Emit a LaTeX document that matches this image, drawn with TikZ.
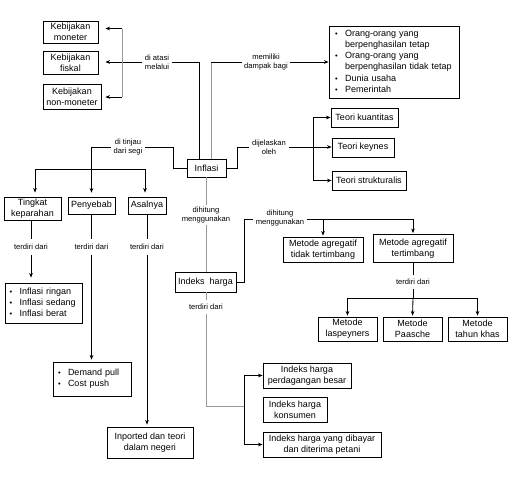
\documentclass[tikz,border=0pt]{standalone}
\usepackage{fontspec}
\setmainfont{Liberation Sans}
\usetikzlibrary{arrows.meta}
\begin{document}
\begin{tikzpicture}[x=1pt,y=-1pt,
  box/.style={draw, line width=0.75pt, fill=white, inner sep=0pt, align=center, font=\fontsize{9}{10.8}\selectfont},
  listbox/.style={draw, line width=0.75pt, fill=white, inner ysep=0pt, align=left, font=\fontsize{9}{11.2}\selectfont},
  lbl/.style={inner xsep=2.5pt, inner ysep=2pt, align=center, font=\fontsize{7.6}{8.6}\selectfont},
  ln/.style={line width=0.85pt},
  gln/.style={line width=0.95pt, draw=black!40},
  arr/.style={ln, -{Stealth[length=4.5pt,width=3.6pt,inset=1.2pt]}},
]
\useasboundingbox (0,0) rectangle (519,493);
\newcommand{\bul}{{\fontsize{7.5}{7.5}\selectfont\textbullet}}

% ---------- boxes ----------
\node[box, minimum width=55, minimum height=22] (mon) at (70.5,32) {Kebijakan\\moneter};
\node[box, minimum width=55, minimum height=23] (fis) at (70.5,62.5) {Kebijakan\\fiskal};
\node[box, minimum width=58, minimum height=25] (non) at (72,96.5) {Kebijakan\\non-moneter};

\node[listbox, minimum width=130, minimum height=72, inner xsep=6pt, text width=118pt] (dampak) at (394,62)
 {\begin{tabular}{@{}p{10pt}@{}l@{}}
  \bul & Orang-orang yang\\
       & berpenghasilan tetap\\
  \bul & Orang-orang yang\\
       & berpenghasilan tidak tetap\\
  \bul & Dunia usaha\\
  \bul & Pemerintah
  \end{tabular}};

\node[box, minimum width=39, minimum height=18] (inf) at (206.5,168) {Inflasi};

\node[box, minimum width=67, minimum height=19] (kuan) at (364.5,117.5) {Teori kuantitas};
\node[box, minimum width=62, minimum height=19] (key) at (363,147.5) {Teori keynes};
\node[box, minimum width=74, minimum height=19] (stru) at (369,180.5) {Teori strukturalis};

\node[box, minimum width=57, minimum height=23] (ting) at (32.5,208.5) {Tingkat\\keparahan};
\node[box, minimum width=47, minimum height=17] (peny) at (91.5,205.5) {Penyebab};
\node[box, minimum width=38, minimum height=17] (asal) at (147,205.5) {Asalnya};

\node[listbox, minimum width=77, minimum height=40, inner xsep=4.5pt, text width=68pt] (ilist) at (43.5,303)
 {\begin{tabular}{@{}p{10pt}@{}l@{}}
  \bul & Inflasi ringan\\
  \bul & Inflasi sedang\\
  \bul & Inflasi berat
  \end{tabular}};
\node[listbox, minimum width=78, minimum height=34, inner xsep=5pt, text width=68pt] (dlist) at (92,379)
 {\begin{tabular}{@{}p{10pt}@{}l@{}}
  \bul & Demand pull\\
  \bul & Cost push
  \end{tabular}};
\node[box, minimum width=86, minimum height=31] (inp) at (150,442.5) {Inported dan teori\\dalam negeri};

\node[box, minimum width=61, minimum height=20] (ih) at (205.5,282) {Indeks\ \ harga};

\node[box, minimum width=80, minimum height=25] (mtt) at (323,249.5) {Metode agregatif\\tidak tertimbang};
\node[box, minimum width=80, minimum height=28] (mt) at (413,248.5) {Metode agregatif\\tertimbang};

\node[box, minimum width=59, minimum height=24] (las) at (347.5,329) {Metode\\laspeyners};
\node[box, minimum width=59, minimum height=24] (paa) at (412.5,329) {Metode\\Paasche};
\node[box, minimum width=59, minimum height=24] (thn) at (477.5,329) {Metode\\tahun khas};

\node[box, minimum width=88, minimum height=25] (ipb) at (307,375.5) {Indeks harga\\perdagangan besar};
\node[box, minimum width=64, minimum height=25] (ik) at (295,409.5) {Indeks harga\\konsumen};
\node[box, minimum width=118, minimum height=25] (ip) at (322,444.5) {Indeks harga yang dibayar\\dan diterima petani};

% ---------- labels ----------
\node[lbl] (l1) at (157,62) {di atasi\\melalui};
\node[lbl] (l2) at (266,62) {memiliki\\dampak bagi};
\node[lbl] (l3) at (128,147) {di tinjau\\dari segi};
\node[lbl] (l4) at (269,147) {dijelaskan\\oleh};
\node[lbl] (l5) at (206,215) {dihitung\\menggunakan};
\node[lbl] (l6) at (280,218) {dihitung\\menggunakan};
\node[lbl, inner ysep=5pt] (l7) at (31,247) {terdiri dari};
\node[lbl, inner ysep=5pt] (l8) at (91.5,247) {terdiri dari};
\node[lbl, inner ysep=5pt] (l9) at (147,247) {terdiri dari};
\node[lbl, inner ysep=4pt] (l10) at (206,307) {terdiri dari};
\node[lbl, inner ysep=4pt] (l11) at (413,282) {terdiri dari};

% ---------- junction coordinates ----------
\coordinate (b1) at (122,28.5);
\coordinate (b2) at (122,97);
\coordinate (j1) at (199,159);
\coordinate (j2) at (199,62);
\coordinate (g1) at (211,159);
\coordinate (g2) at (211,62);
\coordinate (t1) at (173,168);
\coordinate (t2) at (173,147);
\coordinate (t3) at (91.5,147);
\coordinate (h1) at (35,169);
\coordinate (h2) at (145,169);
\coordinate (d1) at (237,168);
\coordinate (d2) at (237,147);
\coordinate (k1) at (313,117.5);
\coordinate (k2) at (313,180.5);
\coordinate (m1) at (244,282);
\coordinate (m2) at (244,219);
\coordinate (m3) at (323,219);
\coordinate (m4) at (413,219);
\coordinate (s1) at (206,406);
\coordinate (s2) at (244,406);
\coordinate (s3) at (244,375.5);
\coordinate (s4) at (244,444.5);
\coordinate (r1) at (413,298);
\coordinate (r2) at (347.5,298);
\coordinate (r3) at (477.5,298);

% ---------- connectors ----------
% di atasi melalui
\draw[ln] (j1) -- (j2) -- (l1.east);
\draw[arr, shorten >=7pt] (l1.west) -- (fis.east |- l1.west);
\draw[gln] (b1) -- (b2);
\draw[arr, shorten >=7pt] (b1) -- (mon.east |- b1);
\draw[arr, shorten >=4pt] (b2) -- (non.east |- b2);

% memiliki dampak bagi
\draw[gln] (g1) -- (g2);
\draw[ln] (g2) -- (l2.west);
\draw[arr] (l2.east) -- (dampak.west |- l2.east);

% di tinjau dari segi
\draw[ln] (inf.west) -- (t1) -- (t2) -- (l3.east);
\draw[ln] (l3.west) -- (t3);
\draw[arr, shorten >=4pt] (t3) -- (peny.north);
\draw[ln] (h1) -- (h2);
\draw[arr, shorten >=4pt] (h1) -- (h1 |- ting.north);
\draw[arr, shorten >=4pt] (h2) -- (h2 |- asal.north);

% dijelaskan oleh
\draw[ln] (inf.east) -- (d1) -- (d2) -- (l4.west);
\draw[arr] (l4.east) -- (key.west |- l4.east);
\draw[ln] (k1) -- (k2);
\draw[arr] (k1) -- (kuan.west);
\draw[arr] (k2) -- (stru.west);

% terdiri dari (three branches)
\draw[ln] (ting.south -| l7) -- (l7.north);
\draw[arr, shorten >=5pt] (l7.south) -- (l7.south |- ilist.north);
\draw[ln] (peny.south) -- (l8.north);
\draw[arr, shorten >=2pt] (l8.south) -- (l8.south |- dlist.north);
\draw[ln] (asal.south) -- (l9.north);
\draw[arr, shorten >=2pt] (l9.south) -- (l9.south |- inp.north);

% dihitung menggunakan (Inflasi -> Indeks harga)
\draw[gln] (inf.south -| l5) -- (l5.north);
\draw[gln] (l5.south) -- (ih.north -| l5);

% dihitung menggunakan (Indeks harga -> metode)
\draw[ln] (ih.east) -- (m1) -- (m2) -- (l6.west |- m2);
\draw[ln] (l6.east |- m2) -- (m4);
\draw[arr, shorten >=1pt] (m3) -- (mtt.north);
\draw[arr, shorten >=1pt] (m4) -- (mt.north);

% terdiri dari (tertimbang)
\draw[ln] (mt.south) -- (l11.north);
\draw[ln] (l11.south) -- (r1);
\draw[ln] (r2) -- (r3);
\draw[arr, shorten >=1pt] (r2) -- (las.north);
\draw[arr, shorten >=1pt] (r1) -- (paa.north);
\draw[arr, shorten >=1pt] (r3) -- (thn.north);

% terdiri dari (Indeks harga)
\draw[gln] (ih.south -| l10) -- (l10.north);
\draw[gln] (l10.south) -- (s1) -- (s2);
\draw[ln] (s3) -- (s4);
\draw[arr] (s3) -- (ipb.west);
\draw[arr] (s4) -- (ip.west);
\end{tikzpicture}
\end{document}
